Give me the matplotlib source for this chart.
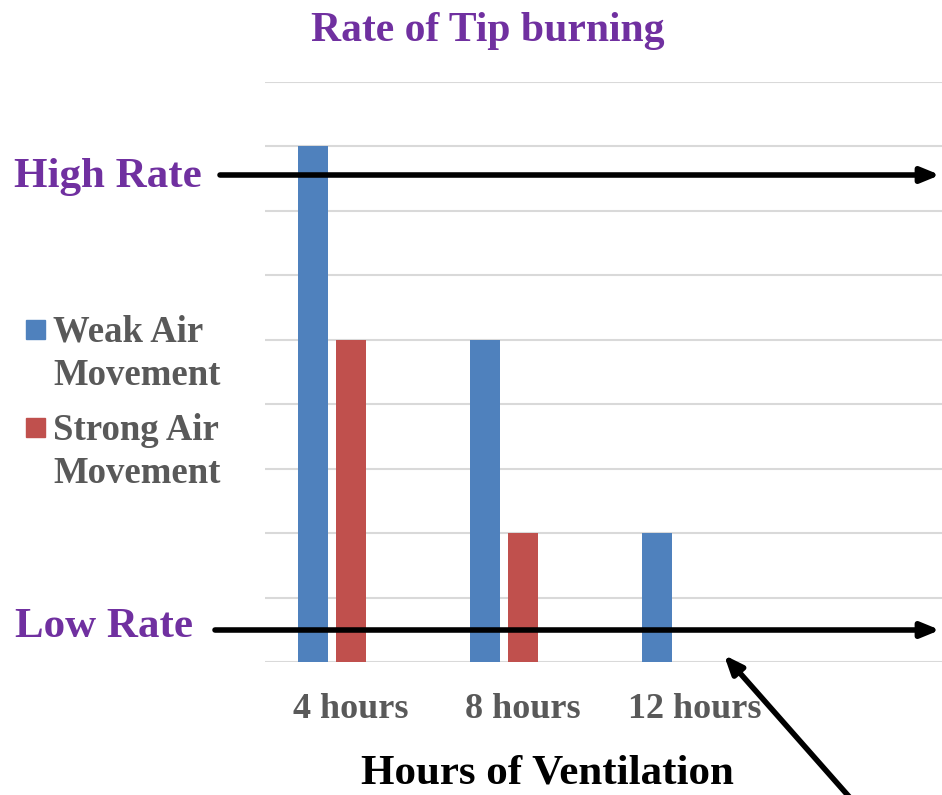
import numpy as np
import matplotlib.pyplot as plt
from matplotlib.patches import Rectangle

# data (gridline units)
categories = ['4 hours', '8 hours', '12 hours']
weak_air = [8, 5, 2]
strong_air = [5, 2, 0]
series_labels = ['Weak Air\nMovement', 'Strong Air\nMovement']

blue = '#4F81BD'
red = '#C0504D'
purple = '#7030A0'
gray = '#595959'

plt.rcParams['font.family'] = ['Liberation Serif', 'DejaVu Serif']
plt.rcParams['font.weight'] = 'bold'

fig = plt.figure(figsize=(9.42, 7.95), dpi=100)
ax = fig.add_axes([265 / 942, 1 - 662 / 795, 1 - 265 / 942, (662 - 82) / 795])

x = np.arange(len(categories))
bw = 0.174
ax.bar(x - 0.221, weak_air, width=bw, color=blue, zorder=3)
ax.bar(x, [v if v > 0 else np.nan for v in strong_air], width=bw, color=red, zorder=3)

ax.set_ylim(0, 9)
ax.set_xlim(-0.5, 3.44)
ax.set_yticks(range(0, 10))
ax.yaxis.grid(True, color='#D9D9D9', linewidth=1.5)
ax.set_axisbelow(True)
ax.tick_params(axis='y', left=False, labelleft=False)
ax.tick_params(axis='x', bottom=False, pad=19)
ax.set_xticks(x)
ax.set_xticklabels(categories, fontsize=26, color=gray, fontweight='bold')
for s in ax.spines.values():
    s.set_visible(False)

# title and axis label
fig.text(488 / 942, 1 - 31 / 795, 'Rate of Tip burning', ha='center', va='center',
         fontsize=30, color=purple, fontweight='bold')
fig.text(547 / 942, 1 - 783 / 795, 'Hours of Ventilation', ha='center', va='baseline',
         fontsize=31, color='black', fontweight='bold')

# manual legend
leg_y = [329, 427]
for lbl, col, yy in zip(series_labels, [blue, red], leg_y):
    fig.patches.append(Rectangle((26 / 942, 1 - (yy + 10) / 795), 19 / 942, 19 / 795,
                                 transform=fig.transFigure, color=col))
    fig.text(53 / 942, 1 - (yy - 14) / 795, lbl, ha='left', va='top',
             fontsize=26.5, color=gray, fontweight='bold', linespacing=1.3)

# rate annotations
fig.text(14 / 942, 1 - 177 / 795, 'High Rate', ha='left', va='center',
         fontsize=31, color=purple, fontweight='bold')
fig.text(15 / 942, 1 - 627 / 795, 'Low Rate', ha='left', va='center',
         fontsize=31, color=purple, fontweight='bold')

arrow_kw = dict(arrowstyle='-|>,head_length=1.1,head_width=0.45', color='black', lw=4,
                shrinkA=0, shrinkB=0)
ax.annotate('', xy=(940 / 942, 1 - 175 / 795), xytext=(220 / 942, 1 - 175 / 795),
            xycoords='figure fraction', textcoords='figure fraction', arrowprops=arrow_kw)
ax.annotate('', xy=(940 / 942, 1 - 630 / 795), xytext=(215 / 942, 1 - 630 / 795),
            xycoords='figure fraction', textcoords='figure fraction', arrowprops=arrow_kw)
ax.annotate('', xy=(724 / 942, 1 - 655 / 795), xytext=(852 / 942, 1 - 800 / 795),
            xycoords='figure fraction', textcoords='figure fraction', arrowprops=arrow_kw)

fig.savefig('out.png', dpi=100)
